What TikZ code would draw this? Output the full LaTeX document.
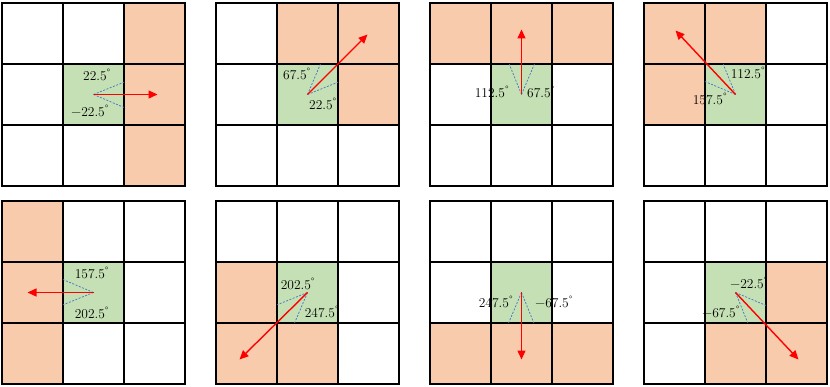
\documentclass[tikz,border=0pt]{standalone}
\usepackage{fontspec}
\usetikzlibrary{arrows.meta,calc}
\definecolor{corange}{HTML}{F8CBAD}
\definecolor{cgreen}{HTML}{C5E0B4}
\definecolor{cblue}{HTML}{4472C4}
\definecolor{cred}{HTML}{FF0000}
\newcommand\dg{\textsuperscript{°}}
\tikzset{
  cell/.style={rectangle, minimum size=61pt, inner sep=0pt, outer sep=0pt, fill=white},
  gridline/.style={line width=1.4pt, black},
  redarrow/.style={line width=1.4pt, cred, -{Triangle[length=9pt,width=8pt]}},
  bdash/.style={cblue, line width=0.7pt, dash pattern=on 2pt off 1.5pt},
  ang/.style={font=\fontsize{13.5}{15}\selectfont, inner sep=0pt},
}
\newcommand\mkcells[3]{\foreach \r in {0,1,2}{\foreach \c in {0,1,2}{%
  \node[cell] (#1-\r\c) at ({#2+30.5+61*\c},{-#3-30.5-61*\r}) {};}}}
\newcommand\mkfill[3]{\foreach \k in {#2}{\fill[#3] (#1-\k.north west) rectangle (#1-\k.south east);}}
\newcommand\mkgrid[1]{\draw[gridline] (#1-00.north west) rectangle (#1-22.south east)
  (#1-00.north east) -- (#1-20.south east) (#1-01.north east) -- (#1-21.south east)
  (#1-00.south west) -- (#1-02.south east) (#1-10.south west) -- (#1-12.south east);}
\newcommand\mkvec[5]{%
  \draw[bdash] (#1-11.center) -- (#1-11.#2);
  \draw[bdash] (#1-11.center) -- (#1-11.#3);
  \coordinate (#1-o) at (#1-11.center);
  \coordinate (#1-e) at ($(#1-11.center)+(#4,#5)$);
  \draw[redarrow] (#1-o) -- (#1-e);}
\newcommand\mkpanel[4]{% name, ox, oy, orange cells
  \mkcells{#1}{#2}{#3}
  \mkfill{#1}{#4}{corange}
  \mkfill{#1}{11}{cgreen}
  \mkgrid{#1}}
\begin{document}
\begin{tikzpicture}[x=1pt,y=1pt]
\fill[white] (0,0) rectangle (830,-387);
\useasboundingbox (0,0) rectangle (830,-387);
% row 1
\mkpanel{a}{2}{3}{02,12,22}
\mkvec{a}{22.5}{337.5}{64}{0}
\node[ang] (a-l1) at (97,-75) {22.5\dg};
\node[ang] (a-l2) at (90,-111) {−22.5\dg};

\mkpanel{b}{216}{3}{01,02,12}
\mkvec{b}{22.5}{67.5}{60}{60}
\node[ang] (b-l1) at (297,-74) {67.5\dg};
\node[ang] (b-l2) at (323,-104) {22.5\dg};

\mkpanel{c}{430}{3}{00,01,02}
\mkvec{c}{67.5}{112.5}{0}{65}
\node[ang] (c-l1) at (492,-92) {112.5\dg};
\node[ang] (c-l2) at (541,-92) {67.5\dg};

\mkpanel{d}{644}{3}{00,01,10}
\mkvec{d}{112.5}{157.5}{-60}{64}
\node[ang] (d-l1) at (748,-73) {112.5\dg};
\node[ang] (d-l2) at (710,-99) {157.5\dg};

% row 2
\mkpanel{e}{2}{201}{00,10,20}
\mkvec{e}{157.5}{202.5}{-66}{0}
\node[ang] (e-l1) at (92,-273) {157.5\dg};
\node[ang] (e-l2) at (92,-313) {202.5\dg};

\mkpanel{f}{216}{201}{10,20,21}
\mkvec{f}{202.5}{247.5}{-68}{-67}
\node[ang] (f-l1) at (298,-284) {202.5\dg};
\node[ang] (f-l2) at (322,-312) {247.5\dg};

\mkpanel{g}{430}{201}{20,21,22}
\mkvec{g}{247.5}{292.5}{0}{-67}
\node[ang] (g-l1) at (496,-302) {247.5\dg};
\node[ang] (g-l2) at (554,-302) {−67.5\dg};

\mkpanel{h}{644}{201}{12,21,22}
\mkvec{h}{337.5}{292.5}{63}{-67}
\node[ang] (h-l1) at (749,-283) {−22.5\dg};
\node[ang] (h-l2) at (721,-312) {−67.5\dg};
\end{tikzpicture}
\end{document}
